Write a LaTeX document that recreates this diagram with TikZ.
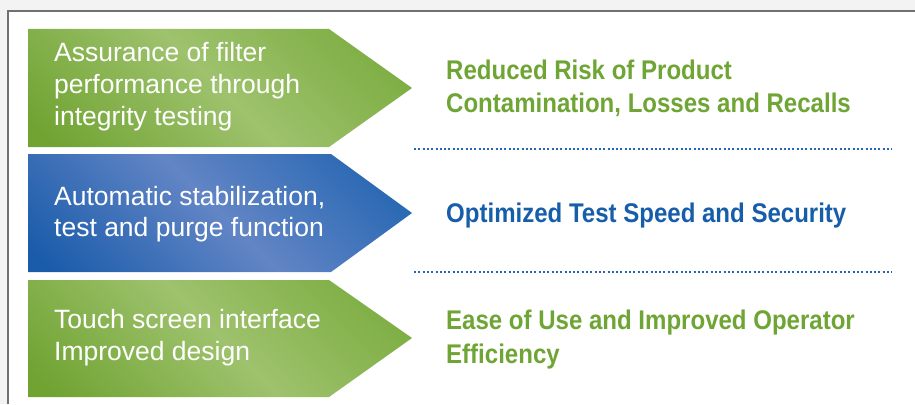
\documentclass[tikz,border=0pt]{standalone}
\usepackage{fontspec}
\setmainfont{Liberation Sans}
\newfontfamily\condfont{Liberation Sans}[FakeStretch=0.89]
\usetikzlibrary{calc}
\definecolor{gdark}{HTML}{70A332}
\definecolor{glight}{HTML}{9EC26D}
\definecolor{gmid}{HTML}{7DAD42}
\definecolor{bdark}{HTML}{1A5CAA}
\definecolor{blight}{HTML}{6285C5}
\definecolor{bmid}{HTML}{2767B2}
\definecolor{gtext}{HTML}{6FA534}
\definecolor{btext}{HTML}{165EAA}
\definecolor{dotblue}{HTML}{2366B2}
\definecolor{framegray}{HTML}{707070}
\definecolor{outbg}{HTML}{F3F3F3}
\pgfdeclarehorizontalshading{greenband}{100bp}{color(0bp)=(gdark); color(30bp)=(gdark); color(50bp)=(glight); color(68bp)=(gmid); color(100bp)=(gmid)}
\pgfdeclarehorizontalshading{blueband}{100bp}{color(0bp)=(bdark); color(30bp)=(bdark); color(50bp)=(blight); color(68bp)=(bmid); color(100bp)=(bmid)}
\tikzset{
  greenfill/.style={shading=greenband, shading angle=45},
  bluefill/.style={shading=blueband, shading angle=45},
  lefttext/.style={anchor=base west, inner sep=0pt, text=white, font=\fontsize{26.5}{32}\selectfont},
  gres/.style={anchor=base west, inner sep=0pt, text=gtext, font=\condfont\bfseries\fontsize{27}{33}\selectfont},
  bres/.style={anchor=base west, inner sep=0pt, text=btext, font=\condfont\bfseries\fontsize{27}{33}\selectfont},
  dotline/.style={draw=dotblue, line width=2pt, dash pattern=on 2pt off 2.3pt},
  frameline/.style={draw=framegray, line width=1.1pt}
}
\begin{document}
\begin{tikzpicture}[x=1pt,y=1pt]
\useasboundingbox (0,0) rectangle (915,-404);
% outer background and white panel
\fill[outbg] (0,0) rectangle (915,-404);
\fill[white] (8,-11) rectangle (915,-404);
\draw[frameline] (915,-11) -- (8,-11) -- (8,-404);
% arrows
\begin{scope}
  \clip (28,-29) -- (329,-29) -- (412,-88) -- (329,-147) -- (28,-147) -- cycle;
  \shade[greenfill] (20,-288) rectangle (420,112);
\end{scope}
\begin{scope}
  \clip (28,-154) -- (331,-154) -- (412,-213) -- (331,-272) -- (28,-272) -- cycle;
  \shade[bluefill] (20,-413) rectangle (420,-13);
\end{scope}
\begin{scope}
  \clip (28,-280) -- (329,-280) -- (412,-338) -- (329,-397) -- (28,-397) -- cycle;
  \shade[greenfill] (20,-538) rectangle (420,-138);
\end{scope}
% left texts
\node[lefttext] (a1) at (54,-62) {Assurance of filter};
\node[lefttext] (a2) at (54,-93.5) {performance through};
\node[lefttext] (a3) at (54,-125) {integrity testing};
\node[lefttext] (b1) at (54,-205) {Automatic stabilization,};
\node[lefttext] (b2) at (54,-236.5) {test and purge function};
\node[lefttext] (c1) at (54,-328) {Touch screen interface};
\node[lefttext] (c2) at (54,-360) {Improved design};
% right texts
\node[gres] (r1) at (446,-79.5) {Reduced Risk of Product};
\node[gres] (r2) at (446,-112.5) {Contamination, Losses and Recalls};
\node[bres] (r3) at (446,-222.5) {Optimized Test Speed and Security};
\node[gres] (r4) at (446,-329.5) {Ease of Use and Improved Operator};
\node[gres] (r5) at (446,-363) {Efficiency};
% dotted separators
\coordinate (d1s) at (414,-149);
\coordinate (d1e) at (892,-149);
\coordinate (d2s) at (414,-272);
\coordinate (d2e) at (892,-272);
\draw[dotline] (d1s) -- (d1e);
\draw[dotline] (d2s) -- (d2e);
\end{tikzpicture}
\end{document}
